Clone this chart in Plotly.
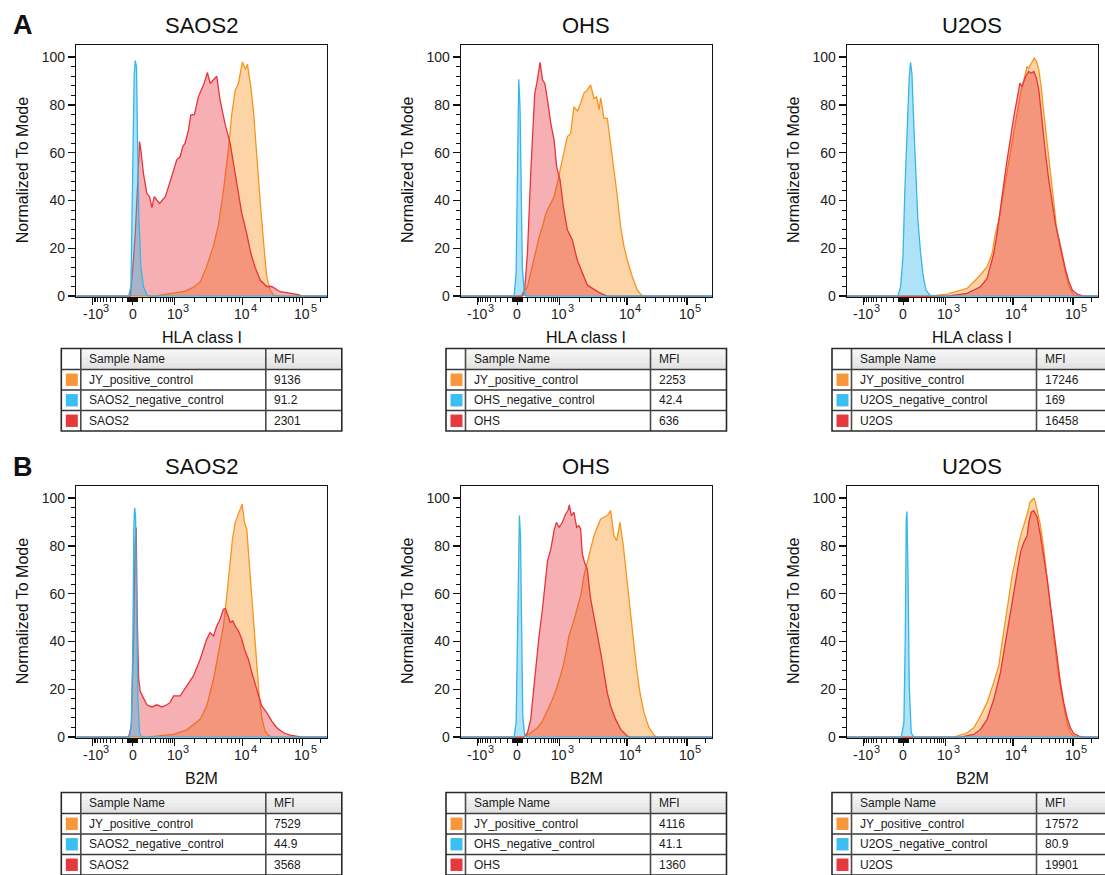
import numpy as np
import plotly.graph_objects as go

# ---------------- data (fluorescence intensity, % of mode) ----------------
cell_lines = ["SAOS2", "OHS", "U2OS"]
markers = ["HLA class I", "B2M"]
panel_letters = ["A", "B"]
table_header = ["Sample Name", "MFI"]

# Row A : HLA class I
saos2_hla_jy_x = [300, 600, 950, 1400, 1900, 2400, 2950, 3750, 4450, 5250, 6200, 6950, 7800, 8700, 10000, 11200, 12100, 13700, 15200, 17300, 19700, 22400, 25400, 29000, 33000, 40000]
saos2_hla_jy_y = [0, 0.8, 1.2, 2, 3.6, 6, 12, 21, 30, 44, 61, 76, 86, 89, 98, 95, 97, 88, 78, 58, 40, 23, 8, 2.5, 0.4, 0]
saos2_hla_neg_x = [-39, -16, 3, 15, 25, 37, 47, 60, 81, 110, 151, 199]
saos2_hla_neg_y = [0, 3.9, 54, 92, 98.6, 96, 65, 33, 12, 3.9, 0.4, 0]
saos2_hla_s_x = [-22, 3, 25, 47, 67, 84, 110, 151, 189, 226, 268, 385, 560, 686, 845, 1080, 1210, 1325, 1436, 1606, 1738, 1968, 2254, 2524, 2732, 3056, 3350, 4191, 4697, 5560, 6590, 7375, 8440, 9770, 11800, 13750, 16280, 19720, 25400, 30800, 42500, 62400, 85800, 97300]
saos2_hla_s_y = [0, 12, 26, 46, 64.7, 60, 51, 43, 41.6, 37, 41.6, 38.8, 41.6, 45.8, 50, 57, 58.4, 62.6, 64, 69.5, 75.8, 76, 83.5, 87, 89, 93.6, 89, 92, 82, 72, 64, 55.6, 45.8, 34.6, 26, 18, 12, 6.7, 4, 4, 1.8, 1.1, 0.6, 0]

ohs_hla_jy_x = [33, 101, 185, 270, 341, 427, 528, 723, 891, 1052, 1178, 1319, 1476, 1652, 1850, 2070, 2318, 2595, 2905, 3252, 3558, 3853, 4077, 4565, 5109, 5720, 6403, 7170, 8022, 8980, 10070, 12190, 14770, 17900]
ohs_hla_jy_y = [0, 3.9, 15, 24.6, 29, 34.6, 37.4, 41.6, 47.5, 54, 61, 66.8, 68, 79.3, 77.4, 80.7, 85, 86.3, 88.4, 82.7, 83.4, 78, 83, 74.4, 74.4, 64, 54, 41.6, 29, 20.7, 15, 8.1, 2.5, 0]
ohs_hla_neg_x = [-31, -11, 2, 14, 26, 36, 48, 65, 86]
ohs_hla_neg_y = [0, 9.5, 58, 90.8, 79, 44, 12, 2.5, 0]
ohs_hla_s_x = [48, 72, 101, 140, 162, 196, 229, 290, 341, 399, 476, 588, 723, 854, 1028, 1152, 1319, 1562, 1850, 2192, 2595, 3252, 4077, 5109]
ohs_hla_s_y = [0, 3.2, 17.9, 51.4, 68.2, 85, 89, 97.8, 90.5, 89, 82, 72.3, 65.4, 54, 48.6, 37.4, 27.7, 23.5, 15, 9.5, 4.6, 2.8, 1.1, 0]

u2os_hla_jy_x = [385, 1070, 2106, 3307, 4147, 4911, 5500, 6153, 6889, 7710, 8636, 9667, 10940, 11960, 13250, 15060, 17110, 18240, 19950, 21540, 22670, 24480, 26790, 29290, 32450, 36880, 40840, 46420, 52740, 59950, 68130, 77430, 87990, 102600, 124200]
u2os_hla_jy_y = [0, 0.8, 3.2, 8.8, 12.3, 17.9, 26.3, 31.8, 40.2, 48.6, 57, 65.4, 73.7, 79.3, 84.9, 90.5, 96.1, 95.4, 97.5, 98.9, 99.6, 98.2, 94.7, 87.7, 76.5, 65.4, 54.2, 41.6, 29, 20.7, 13.7, 8.1, 3.2, 0.4, 0]
u2os_hla_neg_x = [-53, -26, -3, 15, 37, 57, 70, 84, 106, 129, 155, 194, 237, 287, 377, 490]
u2os_hla_neg_y = [0, 3.9, 16.5, 44.4, 72.3, 91.9, 97.8, 93.3, 71, 48.6, 31.8, 17.9, 8.1, 2.5, 0.4, 0]
u2os_hla_s_x = [1070, 2106, 3307, 4147, 5195, 5818, 6500, 7290, 8147, 9113, 10260, 11660, 12920, 14130, 16050, 18240, 19950, 22110, 24480, 26790, 30350, 34530, 39300, 44700, 50850, 57830, 65800, 74850, 85150, 96850, 117000, 150500]
u2os_hla_s_y = [0, 1.1, 3.9, 7.4, 17.9, 26.3, 37.4, 47.2, 57, 66.8, 75.1, 82.8, 89.1, 87.7, 91.9, 94, 93.3, 94, 91.2, 86.3, 72.3, 59.8, 48.6, 38.8, 30, 24, 17, 11, 6, 2.5, 0.8, 0]

# Row B : B2M
saos2_b2m_jy_x = [151, 940, 1518, 2385, 2988, 3745, 4694, 5254, 5884, 6590, 7128, 7800, 8443, 9240, 9886, 10800, 11810, 13080, 14310, 15650, 17340, 19200, 21270, 23870, 27130, 30830]
saos2_b2m_jy_y = [0, 1.1, 3, 7.4, 13, 24, 38, 46.5, 59, 73, 82.8, 89.8, 92.6, 95.4, 97.5, 89.8, 87, 71.6, 57.7, 43.7, 29.7, 15.8, 7.4, 2.5, 0.7, 0]
saos2_b2m_neg_x = [-29, -10, 3, 12, 19, 28, 37, 50, 67, 89]
saos2_b2m_neg_y = [0, 6, 41, 88.4, 96, 92.6, 54.9, 15.8, 1.8, 0]
saos2_b2m_s_x = [-39, -13, 9, 25, 34, 44, 57, 74, 110, 151, 226, 320, 446, 618, 762, 940, 1212, 1518, 1902, 2385, 2988, 3346, 3745, 4194, 4694, 5254, 5623, 6153, 6590, 7210, 7800, 8735, 9776, 10800, 12590, 14310, 16280, 18480, 20990, 25440, 30830, 37340, 48200, 62300, 85800, 97300]
saos2_b2m_s_y = [0, 4.6, 40.5, 82.4, 87.7, 50, 25, 19, 16, 13.5, 12.6, 13.5, 12.6, 13.5, 14.5, 17.2, 17.2, 21.4, 25.6, 32.5, 41, 43.7, 42.3, 46.5, 49.3, 53.5, 53.8, 50.7, 48, 48.6, 46.5, 44.4, 41, 36.7, 32.5, 27, 22, 17.2, 13, 10.2, 6.7, 3.9, 1.8, 0.8, 0.4, 0]

ohs_b2m_jy_x = [65, 140, 240, 341, 476, 657, 891, 1113, 1246, 1395, 1616, 1850, 2070, 2318, 2595, 2905, 3252, 3642, 4077, 4565, 5109, 5720, 6403, 7010, 7847, 8782, 9831, 11150, 12670, 14390, 16360, 19080, 23110, 28010, 31830]
ohs_b2m_jy_y = [0, 1.8, 3.9, 6.7, 11.6, 15.8, 21.4, 28.4, 34.7, 42.4, 48, 53.6, 59.2, 67.6, 73.1, 78.7, 84.3, 87.8, 91.3, 92, 92.7, 94.8, 84.3, 82.2, 89.9, 80.1, 66.2, 53.6, 41, 28.4, 18.6, 10.2, 3.9, 0.7, 0]
ohs_b2m_neg_x = [-31, -11, 2, 14, 20, 30, 39, 52, 72, 93]
ohs_b2m_neg_y = [0, 6, 42.4, 84.3, 92.7, 84.3, 42.4, 8.8, 0.4, 0]
ohs_b2m_s_x = [65, 101, 140, 185, 216, 270, 341, 378, 476, 588, 723, 837, 989, 1113, 1246, 1349, 1411, 1510, 1652, 1809, 1957, 2070, 2192, 2371, 2595, 2905, 3252, 3642, 4077, 4565, 5109, 5720, 6770, 8022, 10070, 11440]
ohs_b2m_s_y = [0, 1.8, 7.4, 21.3, 31, 42.4, 53.6, 60.6, 73.8, 78.7, 86.4, 89.9, 87.8, 89.9, 93.4, 94.8, 97.2, 92.7, 94.1, 87.8, 88.5, 87.1, 76.7, 73, 70.3, 57.8, 50.8, 43.8, 35.4, 26.9, 18.5, 12.9, 7.4, 3.2, 0.4, 0]

u2os_b2m_jy_x = [1341, 2106, 2640, 3307, 4147, 5195, 6153, 6889, 7710, 8636, 9667, 10940, 12430, 14130, 16050, 17560, 18960, 20730, 22110, 23560, 25770, 28540, 32450, 36880, 41900, 47640, 54120, 61500, 69920, 79430, 90280, 102600, 116600]
u2os_b2m_jy_y = [0, 1.8, 3.9, 8.8, 14.5, 23, 29.9, 39.9, 49.7, 59.4, 67.6, 74.5, 81.5, 86.4, 90.6, 94.1, 98.3, 99.4, 100, 98.3, 94.1, 88.5, 78.7, 66.2, 53.6, 41, 29.9, 20.1, 13.1, 6, 1.8, 0.4, 0]
u2os_b2m_neg_x = [-20, 6, 19, 28, 34, 44, 57, 77, 106]
u2os_b2m_neg_y = [0, 6, 42.4, 91.3, 94.4, 70.3, 21.4, 1.8, 0]
u2os_b2m_s_x = [1681, 2640, 3307, 4147, 5195, 6500, 7710, 9113, 10260, 11660, 13250, 15060, 17110, 18240, 19950, 22110, 25120, 28540, 32450, 36880, 41900, 47640, 54120, 61500, 69920, 79430, 90280, 102600, 124200, 150500]
u2os_b2m_s_y = [0, 1.1, 3.2, 7.4, 15.8, 27, 39.6, 52.2, 60.6, 70.3, 77.3, 81.5, 84.3, 89.9, 94.1, 94.8, 92, 84.3, 75.9, 66.2, 55, 43.8, 32.6, 22.8, 14.4, 8.1, 3.9, 1.5, 0.4, 0]

# table contents
sample_names = {
    "SAOS2": ["JY_positive_control", "SAOS2_negative_control", "SAOS2"],
    "OHS": ["JY_positive_control", "OHS_negative_control", "OHS"],
    "U2OS": ["JY_positive_control", "U2OS_negative_control", "U2OS"],
}
mfi_hla = {"SAOS2": ["9136", "91.2", "2301"], "OHS": ["2253", "42.4", "636"], "U2OS": ["17246", "169", "16458"]}
mfi_b2m = {"SAOS2": ["7529", "44.9", "3568"], "OHS": ["4116", "41.1", "1360"], "U2OS": ["17572", "80.9", "19901"]}

# x tick labels (base + exponent, drawn FlowJo-style with the base centred on the tick)
x_major = [-1000, 0, 1000, 10000, 100000]
x_tick_base = ["-10", "0", "10", "10", "10"]
x_tick_exp = ["3", "", "3", "4", "5"]
DATA_MIN, DATA_MAX = -2900, 262144

# ---------------- biexponential-like display transform ----------------
_gk = np.arcsinh(np.array([-1000.0, 0.0, 1000.0, 1e4, 1e5]) / 150.0)
_dk = np.array([-40.0, 0.0, 42.0, 110.0, 170.0])


def biex(v):
    v = np.asarray(v, dtype=float)
    g = np.arcsinh(v / 150.0)
    out = np.interp(g, _gk, _dk)
    lo = g < _gk[0]
    hi = g > _gk[-1]
    out[lo] = _dk[0] + (g[lo] - _gk[0]) * (_dk[1] - _dk[0]) / (_gk[1] - _gk[0])
    out[hi] = _dk[-1] + (g[hi] - _gk[-1]) * (_dk[-1] - _dk[-2]) / (_gk[-1] - _gk[-2])
    return out


minor_vals = []
for s in (-1, 1):
    minor_vals += [s * v for v in range(10, 60, 10)]
    minor_vals += [s * v for v in range(100, 1000, 100)]
minor_vals += list(range(2000, 10000, 1000)) + list(range(20000, 100000, 10000)) + [200000]

# ---------------- figure ----------------
W, H = 1105, 875          # design frame (reference pixels)
FIG_H = 882               # rendered canvas height (viewport compensation)
FONT = "Liberation Sans, Arial, sans-serif"
TICK_FS, EXP_FS = 14, 11


def px(x):
    return x / W


def py(y):
    return 1 - y / H


def text_halfwidth(s, size):
    w = sum(0.333 if ch == "-" else 0.556 for ch in s)
    return w * size / 2


ORANGE, ORANGE_F = "#F7941E", "rgba(247,148,30,0.40)"
RED, RED_F = "#E8333A", "rgba(232,51,58,0.39)"
BLUE, BLUE_F = "#35B6E9", "rgba(53,182,233,0.40)"
SW_ORANGE, SW_BLUE, SW_RED = "#F7963B", "#3BBFF0", "#E7383E"

panels = [
    (0, 0, saos2_hla_jy_x, saos2_hla_jy_y, saos2_hla_neg_x, saos2_hla_neg_y, saos2_hla_s_x, saos2_hla_s_y),
    (0, 1, ohs_hla_jy_x, ohs_hla_jy_y, ohs_hla_neg_x, ohs_hla_neg_y, ohs_hla_s_x, ohs_hla_s_y),
    (0, 2, u2os_hla_jy_x, u2os_hla_jy_y, u2os_hla_neg_x, u2os_hla_neg_y, u2os_hla_s_x, u2os_hla_s_y),
    (1, 0, saos2_b2m_jy_x, saos2_b2m_jy_y, saos2_b2m_neg_x, saos2_b2m_neg_y, saos2_b2m_s_x, saos2_b2m_s_y),
    (1, 1, ohs_b2m_jy_x, ohs_b2m_jy_y, ohs_b2m_neg_x, ohs_b2m_neg_y, ohs_b2m_s_x, ohs_b2m_s_y),
    (1, 2, u2os_b2m_jy_x, u2os_b2m_jy_y, u2os_b2m_neg_x, u2os_b2m_neg_y, u2os_b2m_s_x, u2os_b2m_s_y),
]

col_left = [76.3, 461.0, 847.0]
plot_w = 250.7
row_top = [45.0, 486.0]
plot_h = 252.0

fig = go.Figure()
layout = dict(
    width=W, height=FIG_H, margin=dict(l=0, r=0, t=0, b=0),
    paper_bgcolor="white", plot_bgcolor="white", showlegend=False,
    font=dict(family=FONT, size=12, color="#1a1a1a"),
)
annotations = []
shapes = []


def cell_text(x_left, y, text):
    return dict(x=px(x_left), y=py(y), xref="paper", yref="paper", text=text,
                showarrow=False, xanchor="left", yanchor="middle",
                font=dict(size=12, family=FONT, color="#1a1a1a"))


for i, (r, c, jx, jy, nx, ny, sx, sy) in enumerate(panels):
    k = i + 1
    xa = "x" if k == 1 else f"x{k}"
    ya = "y" if k == 1 else f"y{k}"
    for xs, ys, lc, fc in ((jx, jy, ORANGE, ORANGE_F), (sx, sy, RED, RED_F), (nx, ny, BLUE, BLUE_F)):
        xx = [DATA_MIN] + list(xs) + [DATA_MAX]
        yy = [0] + list(ys) + [0]
        fig.add_trace(go.Scatter(
            x=biex(xx), y=yy, mode="lines", line=dict(color=lc, width=1.3),
            fill="tozeroy", fillcolor=fc, xaxis=xa, yaxis=ya, hoverinfo="skip",
        ))
    L = col_left[c]
    T = row_top[r]
    layout["xaxis" if k == 1 else f"xaxis{k}"] = dict(
        domain=[px(L), px(L + plot_w)], anchor=ya, range=[-56.3, 194.6],
        tickmode="array", tickvals=list(biex(x_major)), showticklabels=False,
        ticks="outside", ticklen=7, tickwidth=1.4, tickcolor="#111",
        showline=True, linecolor="#111", linewidth=1.4, mirror=True,
        showgrid=False, zeroline=False, fixedrange=True,
        minor=dict(tickmode="array", tickvals=list(biex(minor_vals)), ticklen=4, tickwidth=1,
                   tickcolor="#111", ticks="outside", showgrid=False),
    )
    layout["yaxis" if k == 1 else f"yaxis{k}"] = dict(
        domain=[py(T + plot_h), py(T)], anchor=xa, range=[-0.4, 105.1],
        tickmode="array", tickvals=[0, 20, 40, 60, 80, 100],
        ticks="outside", ticklen=7, tickwidth=1.4, tickcolor="#111",
        showline=True, linecolor="#111", linewidth=1.4, mirror=True,
        showgrid=False, zeroline=False, fixedrange=True,
        tickfont=dict(size=TICK_FS, family=FONT, color="#222"),
        minor=dict(tickmode="array", tickvals=list(range(4, 100, 4)), ticklen=4, tickwidth=1,
                   tickcolor="#111", ticks="outside", showgrid=False),
    )
    # x tick labels
    tick_pos = biex(x_major)
    for tp, base, ex in zip(tick_pos, x_tick_base, x_tick_exp):
        annotations.append(dict(x=float(tp), xref=xa, y=py(T + plot_h + 16.5), yref="paper", text=base,
                                showarrow=False, xanchor="center", yanchor="middle",
                                font=dict(size=TICK_FS, family=FONT, color="#222")))
        if ex:
            annotations.append(dict(x=float(tp), xref=xa, y=py(T + plot_h + 10.5), yref="paper", text=ex,
                                    showarrow=False, xanchor="left", yanchor="middle",
                                    xshift=text_halfwidth(base, TICK_FS) - 1.5,
                                    font=dict(size=EXP_FS, family=FONT, color="#222")))
    cx = L + plot_w / 2
    annotations.append(dict(x=px(cx), y=py(T - 19.5), xref="paper", yref="paper", text=cell_lines[c],
                            showarrow=False, xanchor="center", yanchor="middle",
                            font=dict(size=22, family=FONT, color="#111")))
    annotations.append(dict(x=px(L - 54), y=py(T + plot_h / 2 - 1), xref="paper", yref="paper",
                            text="Normalized To Mode", textangle=-90, showarrow=False,
                            xanchor="center", yanchor="middle", font=dict(size=16, family=FONT, color="#111")))
    annotations.append(dict(x=px(cx), y=py(T + plot_h + 40.5), xref="paper", yref="paper", text=markers[r],
                            showarrow=False, xanchor="center", yanchor="middle",
                            font=dict(size=16, family=FONT, color="#111")))

    # ---- table ----
    tl = L - 15
    s1 = tl + 19.5
    s2 = tl + 204.5
    tr = tl + 280.5
    ttop = T + 303.5 if r == 0 else T + 306.5
    hh, rh = 21.0, 20.5
    ylines = [ttop, ttop + hh, ttop + hh + rh, ttop + hh + 2 * rh, ttop + hh + 3 * rh]
    nb = 6
    for b in range(nb):
        t = b / (nb - 1)
        g = int(round(246 - t * 20))
        shapes.append(dict(type="rect", xref="paper", yref="paper", x0=px(s1), x1=px(tr),
                           y0=py(ttop + b * hh / nb), y1=py(ttop + (b + 1) * hh / nb),
                           fillcolor=f"rgb({g},{g},{g})", line=dict(width=0), layer="above"))
    for j, sw in enumerate((SW_ORANGE, SW_BLUE, SW_RED)):
        ymid = (ylines[j + 1] + ylines[j + 2]) / 2
        shapes.append(dict(type="rect", xref="paper", yref="paper", x0=px(tl + 4.5), x1=px(tl + 16.5),
                           y0=py(ymid + 6.2), y1=py(ymid - 6.2), fillcolor=sw, line=dict(width=0), layer="above"))
    for yl in ylines[1:4]:
        shapes.append(dict(type="line", xref="paper", yref="paper", x0=px(tl), x1=px(tr), y0=py(yl), y1=py(yl),
                           line=dict(color="#3a3a3a", width=1.5), layer="above"))
    for xl in (s1, s2):
        shapes.append(dict(type="line", xref="paper", yref="paper", x0=px(xl), x1=px(xl), y0=py(ylines[0]),
                           y1=py(ylines[4]), line=dict(color="#4a4a4a", width=1.6), layer="above"))
    shapes.append(dict(type="rect", xref="paper", yref="paper", x0=px(tl), x1=px(tr), y0=py(ylines[4]),
                       y1=py(ylines[0]), line=dict(color="#2a2a2a", width=1.6), layer="above"))
    hy = (ylines[0] + ylines[1]) / 2
    annotations.append(cell_text(s1 + 6, hy, table_header[0]))
    annotations.append(cell_text(s2 + 6, hy, table_header[1]))
    mfis = mfi_hla[cell_lines[c]] if r == 0 else mfi_b2m[cell_lines[c]]
    for j in range(3):
        ymid = (ylines[j + 1] + ylines[j + 2]) / 2
        annotations.append(cell_text(s1 + 6, ymid, sample_names[cell_lines[c]][j]))
        annotations.append(cell_text(s2 + 6, ymid, mfis[j]))

for r, letter in enumerate(panel_letters):
    annotations.append(dict(x=px(23), y=py(row_top[r] - 19.5), xref="paper", yref="paper", text=f"<b>{letter}</b>",
                            showarrow=False, xanchor="center", yanchor="middle",
                            font=dict(size=27, family=FONT, color="#111")))

layout["annotations"] = annotations
layout["shapes"] = shapes
fig.update_layout(**layout)
fig.write_html(
    "out.html",
    config={"displayModeBar": False, "staticPlot": True},
    post_script="document.body.style.margin='0px';document.body.style.overflow='hidden';",
)
